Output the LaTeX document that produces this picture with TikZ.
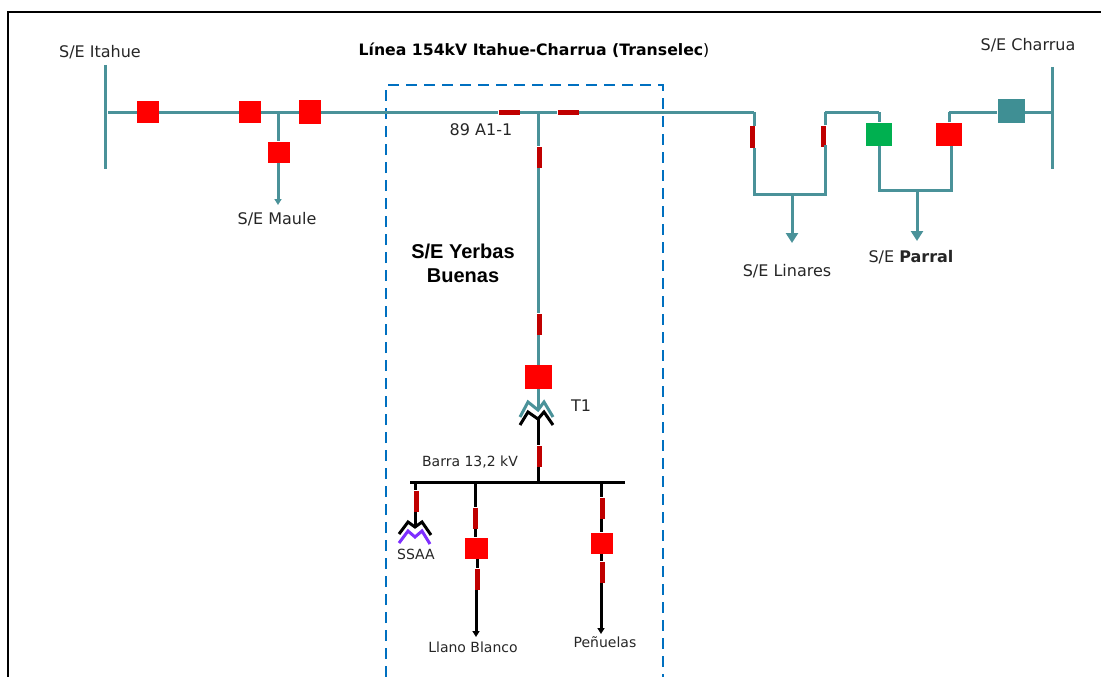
\documentclass[tikz,border=0pt]{standalone}
\usepackage{fontspec}
\setmainfont{DejaVu Sans}
\newfontfamily\arialfont{Liberation Sans}
\usetikzlibrary{arrows.meta}
\definecolor{lineteal}{HTML}{4A9299}
\definecolor{boxteal}{HTML}{3F8F94}
\definecolor{discred}{HTML}{C00000}
\definecolor{dashblue}{HTML}{0070C0}
\definecolor{ssaapurple}{HTML}{7F2FFF}
\definecolor{textgrey}{HTML}{262626}
\definecolor{breakergreen}{HTML}{00B050}
\tikzset{
	teal line/.style={draw=lineteal,line width=3pt},
	black line/.style={draw=black,line width=3pt},
	breaker/.style={shape=rectangle,fill=red,inner sep=0pt,minimum width=22pt,minimum height=21pt},
	disc v/.style={shape=rectangle,fill=discred,inner sep=0pt,minimum width=5pt,minimum height=21pt},
	disc h/.style={shape=rectangle,fill=discred,inner sep=0pt,minimum width=21pt,minimum height=5pt},
	label/.style={text=textgrey,font=\fontsize{16}{18}\selectfont,inner sep=0pt},
	small label/.style={text=textgrey,font=\fontsize{14}{16}\selectfont,inner sep=0pt},
}
\begin{document}
\begin{tikzpicture}[x=1pt,y=-1pt]
	\useasboundingbox (0,0) rectangle (1101,677);
	\draw[line width=2pt] (8,677) -- (8,12) -- (1101,12);
	\draw[draw=dashblue,line width=2.8pt,dash pattern=on 11pt off 7pt] (386,677) -- (386,85) -- (663,85) -- (663,677);

	\node[label] (itahue) at (100,52) {S/E Itahue};
	\node[label] (maule) at (277,219) {S/E Maule};
	\node[label] (charrua) at (1028,45) {S/E Charrua};
	\node[label] (linares) at (787,271) {S/E Linares};
	\node[label] (parral) at (911,257) {S/E \textbf{Parral}};
	\node[label,text=black,font=\fontsize{15.7}{18}\selectfont] (title) at (534,50) {\textbf{Línea 154kV Itahue-Charrua (Transelec})};
	\node[label] (a11) at (481,130) {89 A1-1};
	\node[label] (t1) at (581,406) {T1};
	\node[small label] (barra) at (470,462) {Barra 13,2 kV};
	\node[small label] (ssaa) at (416,554) {SSAA};
	\node[small label] (llano) at (473,647) {Llano Blanco};
	\node[small label] (penuelas) at (605,642) {Peñuelas};
	\node[text=black,font=\arialfont\bfseries\fontsize{20}{24}\selectfont,align=center,inner sep=0pt] (yerbas) at (463,263) {S/E Yerbas\\Buenas};

	\node[breaker] (b1) at (148,112) {};
	\node[breaker] (b2) at (250,112) {};
	\node[breaker,minimum height=23pt] (b3) at (310,112) {};
	\node[breaker] (b4) at (279,152) {};
	\node[breaker,minimum width=27pt,minimum height=24pt] (b5) at (538,377) {};
	\node[breaker,minimum width=23pt] (b6) at (476,548) {};
	\node[breaker] (b7) at (602,543) {};
	\node[breaker,minimum width=26pt,minimum height=23pt] (b8) at (949,134) {};
	\node[breaker,fill=breakergreen,minimum width=26pt,minimum height=23pt] (b9) at (879,134) {};
	\node[breaker,fill=boxteal,minimum width=27pt,minimum height=23pt] (b10) at (1011,111) {};

	\node[disc h] (d1) at (509,112) {};
	\node[disc h] (d2) at (568,112) {};
	\node[disc v] (d3) at (539,157) {};
	\node[disc v] (d4) at (539,324) {};
	\node[disc v] (d5) at (539,456) {};
	\node[disc v] (d6) at (416,501) {};
	\node[disc v] (d7) at (475,518) {};
	\node[disc v] (d8) at (477,579) {};
	\node[disc v] (d9) at (602,508) {};
	\node[disc v] (d10) at (602,572) {};
	\node[disc v,minimum height=22pt] (d11) at (752,137) {};
	\node[disc v] (d12) at (823,136) {};

	\coordinate (itahue1) at (105,65);
	\coordinate (itahue2) at (105,169);
	\coordinate (charrua1) at (1052,67);
	\coordinate (charrua2) at (1052,169);
	\coordinate (start) at (108,112);
	\coordinate (tee1) at (278,112);
	\coordinate (tee2) at (538,112);
	\coordinate (end1) at (278,205);
	\coordinate (lin1) at (754,112);
	\coordinate (lin2) at (754,194);
	\coordinate (lin3) at (825,194);
	\coordinate (lin4) at (825,112);
	\coordinate (lin5) at (792,194);
	\coordinate (lin6) at (792,243);
	\coordinate (par1) at (879,112);
	\coordinate (par2) at (879,190);
	\coordinate (par3) at (951,190);
	\coordinate (par4) at (949,112);
	\coordinate (par5) at (917,190);
	\coordinate (par6) at (917,241);
	\coordinate (bus1) at (410,482);
	\coordinate (bus2) at (625,482);
	\coordinate (tee3) at (538,482);
	\coordinate (tee4) at (415,482);
	\coordinate (tee5) at (475,482);
	\coordinate (tee6) at (601,482);
	\coordinate (tx1) at (538,410);
	\coordinate (tx2) at (538,419);
	\coordinate (tx3) at (415,527);
	\coordinate (end2) at (476,637);
	\coordinate (end3) at (601,634);

	\path [teal line] (itahue1) edge (itahue2);
	\path [teal line] (charrua1) edge (charrua2);
	\path [teal line] (start) edge (b1);
	\path [teal line] (b1) edge (b2);
	\path [teal line] (b2) edge (tee1);
	\path [teal line] (tee1) edge (b3);
	\path [teal line] (tee1) edge (tee1 |- b4.north);
	\path [teal line] (b3) edge (d1);
	\path [teal line] (d1) edge (tee2);
	\path [teal line] (tee2) edge (d2);
	\path [teal line] (d2) edge (lin1);
	\path [teal line] (tee2) edge (tee2 |- d3.north);
	\path [teal line] (tee2 |- d3.south) edge (tee2 |- d4.north);
	\path [teal line] (tee2 |- d4.south) edge (b5);
	\path [teal line] (b5) edge (tx1);
	\path [teal line] (lin1) edge (lin1 |- d11.north);
	\path [teal line] (lin1 |- d11.south) edge (lin2);
	\path [teal line] (lin4 |- d12.north) edge (lin4);
	\path [teal line] (lin4) edge (par1);
	\path [teal line] (par1) edge (b9);
	\path [teal line] (b9) edge (par2);
	\path [teal line] (par3) edge (par3 |- b8.south);
	\path [teal line] (b8) edge (par4);
	\path [teal line] (par4) edge (par4 -| b10.west);
	\path [teal line] (b10.east |- par4) edge (par4 -| charrua1);
	\draw [teal line,line cap=rect] (lin2) -- (lin3) -- (lin4 |- d12.south);
	\draw [teal line,line cap=rect] (par2) -- (par3);
	\draw [teal line,-{Triangle[length=6pt,width=7pt]}] (tee1 |- b4.south) -- (end1);
	\draw [teal line,-{Triangle[length=10pt,width=12pt]}] (lin5) -- (lin6);
	\draw [teal line,-{Triangle[length=10pt,width=12pt]}] (par5) -- (par6);

	\path [black line] (bus1) edge (bus2);
	\path [black line] (tx2) edge (tx2 |- d5.north);
	\path [black line] (tx2 |- d5.south) edge (tee3);
	\path [black line] (tee4) edge (tee4 |- d6.north);
	\path [black line] (tee4 |- d6.south) edge (tx3);
	\path [black line] (tee5) edge (tee5 |- d7.north);
	\path [black line] (tee5 |- d7.south) edge (b6.north -| tee5);
	\path [black line] (d8.north |- b6.south) edge (d8);
	\path [black line] (tee6) edge (tee6 |- d9.north);
	\path [black line] (tee6 |- d9.south) edge (tee6 |- b7.north);
	\path [black line] (tee6 |- b7.south) edge (tee6 |- d10.north);
	\draw [black line,-{Triangle[length=6pt,width=7pt]}] (end2 |- d8.south) -- (end2);
	\draw [black line,-{Triangle[length=6pt,width=7pt]}] (tee6 |- d10.south) -- (end3);

	\draw[teal line] (520,417) -- (528,402) -- (tx1) -- (544,402) -- (553,417);
	\draw[black line] (520,425) -- (528,412) -- (tx2) -- (544,412) -- (553,425);
	\draw[black line] (399,534) -- (408,522) -- (tx3) -- (422,522) -- (431,535);
	\draw[draw=ssaapurple,line width=3pt] (399,543) -- (408,531) -- (415,537) -- (422,531) -- (430,544);
\end{tikzpicture}
\end{document}
